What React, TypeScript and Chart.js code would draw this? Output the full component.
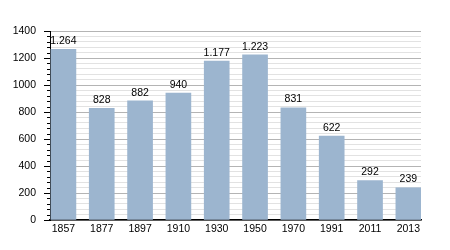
import React, { useEffect, useRef } from "react";
import { Chart, registerables } from "chart.js";

Chart.register(...registerables);

const years = ["1857", "1877", "1897", "1910", "1930", "1950", "1970", "1991", "2011", "2013"];
const population = [1264, 828, 882, 940, 1177, 1223, 831, 622, 292, 239];
const yMax = 1400;
const majorStep = 200;
const minorStep = 40;
const xMin = -0.35;
const xMax = 9.33;

function fmt(v: number): string {
  const s = String(v);
  return s.length > 3 ? s.slice(0, s.length - 3) + "." + s.slice(-3) : s;
}

const FONT = "'Liberation Sans', Arial, sans-serif";
const FS = 10.5;

const tickPlugin = {
  id: "customTicks",
  afterDraw(chart: any) {
    const ctx = chart.ctx;
    const y = chart.scales.y;
    ctx.save();
    ctx.strokeStyle = "#000";
    ctx.lineWidth = 1;
    for (let v = 0; v <= yMax; v += minorStep) {
      const py = Math.round(y.getPixelForValue(v)) + 0.5;
      const len = v % majorStep === 0 ? 6 : 3;
      ctx.beginPath();
      ctx.moveTo(y.right - len, py);
      ctx.lineTo(y.right, py);
      ctx.stroke();
    }
    ctx.restore();
  },
};

const labelPlugin = {
  id: "valueLabels",
  afterDatasetsDraw(chart: any) {
    const ctx = chart.ctx;
    const meta = chart.getDatasetMeta(0);
    ctx.save();
    ctx.font = `${FS}px ${FONT}`;
    ctx.fillStyle = "#000";
    ctx.textAlign = "center";
    ctx.textBaseline = "bottom";
    meta.data.forEach((bar: any, i: number) => {
      ctx.fillText(fmt(population[i]), bar.x, bar.y - 3);
    });
    ctx.restore();
  },
};

export default function App() {
  const ref = useRef<HTMLCanvasElement>(null);
  useEffect(() => {
    if (!ref.current) return;
    const chart = new Chart(ref.current, {
      type: "bar",
      data: {
        datasets: [
          {
            data: population.map((v, i) => ({ x: i, y: v })),
            backgroundColor: "#9cb5cf",
            borderWidth: 0,
            barThickness: 25,
          },
        ],
      },
      options: {
        animation: false,
        responsive: false,
        layout: { padding: { left: 0, right: 29, top: 31, bottom: 0 } },
        plugins: { legend: { display: false }, tooltip: { enabled: false } },
        scales: {
          x: {
            type: "linear",
            min: xMin,
            max: xMax,
            offset: false,
            bounds: "data",
            grid: { display: false, drawTicks: false, offset: false },
            border: { display: true, color: "#000", width: 1.5 },
            afterBuildTicks: (s: any) => {
              s.ticks = years.map((_, i) => ({ value: i }));
              s.min = xMin;
              s.max = xMax;
            },
            ticks: {
              autoSkip: false,
              maxRotation: 0,
              padding: 3,
              color: "#000",
              font: { family: FONT, size: FS },
              callback: (v: any) => years[Math.round(v)] ?? "",
            },
            afterFit: (s: any) => {
              s.height = 30;
            },
          },
          y: {
            min: 0,
            max: yMax,
            grid: {
              color: (c: any) =>
                c.tick && c.tick.value % majorStep === 0 ? "#b4b4b4" : "#e2e2e2",
              tickColor: "transparent",
              tickLength: 6,
            },
            border: { display: true, color: "#000", width: 1 },
            ticks: {
              stepSize: minorStep,
              autoSkip: false,
              padding: 8,
              color: "#000",
              font: { family: FONT, size: FS },
              callback: (v: any) => (v % majorStep === 0 ? String(v) : ""),
            },
            afterFit: (s: any) => {
              s.width = 50;
            },
          },
        },
      },
      plugins: [tickPlugin, labelPlugin],
    });
    return () => chart.destroy();
  }, []);
  return (
    <div style={{ position: "fixed", left: 0, top: 0, width: 450, height: 250, background: "#fff" }}>
      <canvas ref={ref} width={450} height={250} style={{ width: 450, height: 250 }} />
    </div>
  );
}
